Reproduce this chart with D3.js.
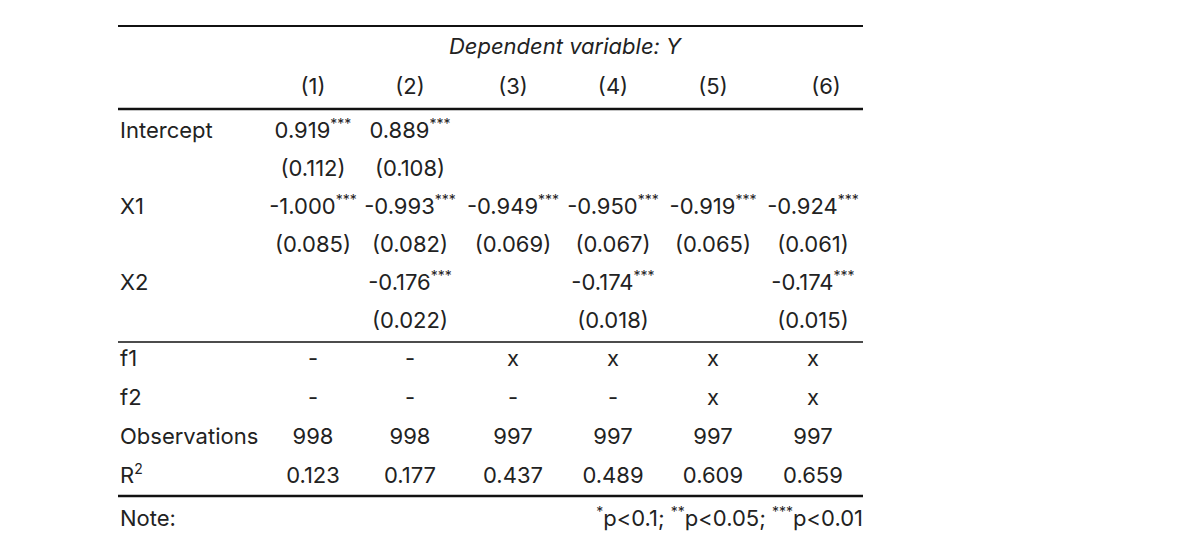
<!DOCTYPE html>
<html>
<head>
<script src="https://cdn.jsdelivr.net/npm/d3@7"></script>
<style>
  body { margin:0; background:#fff; }
  text { font-family: Inter, Roboto, "Noto Sans", sans-serif; fill:#222; font-size:22px; }
</style>
</head>
<body>
<svg id="chart" width="1200" height="554"></svg>
<script>
  // table data
  var models   = ["(1)", "(2)", "(3)", "(4)", "(5)", "(6)"];
  var rowNames = ["Intercept", "", "X1", "", "X2", ""];
  var coefRows = [
    ["0.919|***", "0.889|***", "", "", "", ""],
    ["(0.112)", "(0.108)", "", "", "", ""],
    ["-1.000|***", "-0.993|***", "-0.949|***", "-0.950|***", "-0.919|***", "-0.924|***"],
    ["(0.085)", "(0.082)", "(0.069)", "(0.067)", "(0.065)", "(0.061)"],
    ["", "-0.176|***", "", "-0.174|***", "", "-0.174|***"],
    ["", "(0.022)", "", "(0.018)", "", "(0.015)"]
  ];
  var statNames = ["f1", "f2", "Observations", "R|2"];
  var statRows = [
    ["-", "-", "x", "x", "x", "x"],
    ["-", "-", "-", "-", "x", "x"],
    ["998", "998", "997", "997", "997", "997"],
    ["0.123", "0.177", "0.437", "0.489", "0.609", "0.659"]
  ];

  var svg = d3.select("#chart");
  var left = 118, right = 863;
  var x = d3.scaleOrdinal().domain(d3.range(6)).range([313, 410, 513, 613, 713, 813]);
  var xHead = d3.scaleOrdinal().domain(d3.range(6)).range([313, 410, 513, 613, 713, 826]);
  var yCoef = d3.scaleLinear().domain([0, 5]).range([130, 320]);
  var yStat = d3.scaleLinear().domain([0, 3]).range([358, 475]);

  function line(y, w) {
    svg.append("line").attr("x1", left).attr("x2", right).attr("y1", y).attr("y2", y)
      .attr("stroke", "#111").attr("stroke-width", w);
  }
  // cell text with optional superscript after "|"
  function cell(g, s) {
    var parts = s.split("|");
    g.append("tspan").text(parts[0]);
    if (parts[1]) g.append("tspan").attr("dy", -9).attr("font-size", 14).text(parts[1]);
  }

  line(26, 2); line(109, 2.5); line(342, 1.3); line(496, 2.5);

  svg.append("text").attr("x", 565).attr("y", 54).attr("text-anchor", "middle")
    .attr("font-style", "italic").text("Dependent variable: Y");
  models.forEach(function(m, i) {
    svg.append("text").attr("x", xHead(i)).attr("y", 94).attr("text-anchor", "middle").text(m);
  });

  coefRows.forEach(function(r, j) {
    var yy = yCoef(j) + 8;
    if (rowNames[j]) svg.append("text").attr("x", left + 2).attr("y", yy).text(rowNames[j]);
    r.forEach(function(v, i) {
      if (!v) return;
      var t = svg.append("text").attr("x", x(i)).attr("y", yy).attr("text-anchor", "middle");
      cell(t, v);
    });
  });

  statRows.forEach(function(r, j) {
    var yy = yStat(j) + 8;
    cell(svg.append("text").attr("x", left + 2).attr("y", yy), statNames[j]);
    r.forEach(function(v, i) {
      svg.append("text").attr("x", x(i)).attr("y", yy).attr("text-anchor", "middle").text(v);
    });
  });

  svg.append("text").attr("x", left + 2).attr("y", 526).text("Note:");
  var note = svg.append("text").attr("x", right).attr("y", 526).attr("text-anchor", "end");
  [["*", "p<0.1; "], ["**", "p<0.05; "], ["***", "p<0.01"]].forEach(function(p) {
    note.append("tspan").attr("font-size", 14).attr("dy", -9).text(p[0]);
    note.append("tspan").attr("dy", 9).text(p[1]);
  });
</script>
</body>
</html>
